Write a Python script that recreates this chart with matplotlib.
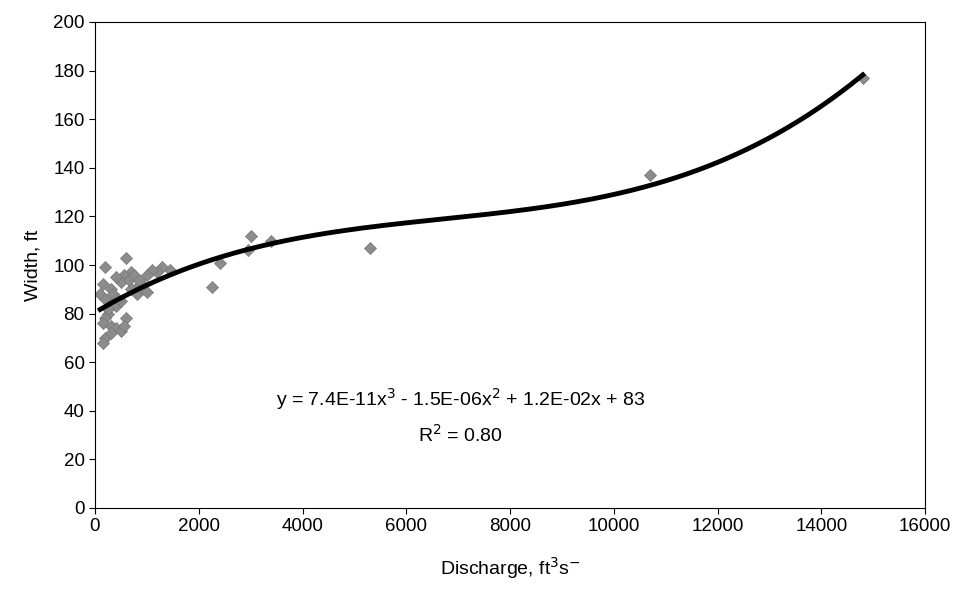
import numpy as np
import matplotlib
matplotlib.use("Agg")
import matplotlib.pyplot as plt

discharge = [14800,10700,5300,3400,3000,2950,2400,2250,1450,1300,1200,1100,1000,900,800,700,600,700,550,500,400,300,200,150,100,200,300,400,500,250,200,150,300,400,500,600,550,200,150,300,800,900,1000,350,450,250,650,750,850]
width = [177,137,107,110,112,106,101,91,98,99,97,98,96,92,91,90,103,97,96,93,95,90,99,92,88,86,84,83,85,80,78,76,75,74,73,78,75,70,68,72,88,90,89,88,86,82,94,96,94]
xticks = list(range(0,16001,2000))
yticks = list(range(0,201,20))

plt.rcParams['font.family'] = ['Liberation Sans', 'DejaVu Sans']
fig = plt.figure(figsize=(9.61,6.01), dpi=100)
ax = fig.add_axes([95/961, 1-508/601, 830/961, 486/601])
ax.scatter(discharge, width, marker='D', s=38, color='#8c8c8c', edgecolors='#777777', linewidths=0.5, zorder=2)
c = np.polyfit(discharge, width, 3)
xs = np.linspace(100, 14800, 300)
ax.plot(xs, np.polyval(c, xs), color='black', lw=3.5, zorder=3)
ax.set_xlim(0,16000); ax.set_ylim(0,200)
ax.set_xticks(xticks); ax.set_yticks(yticks)
ax.tick_params(labelsize=13.5, direction='out', length=4)
ax.set_xlabel('Discharge, ft$^3$s$^{-}$', fontsize=14, labelpad=14)
ax.set_ylabel('Width, ft', fontsize=14, labelpad=8)
ax.text(7050, 45, 'y = 7.4E-11x$^3$ - 1.5E-06x$^2$ + 1.2E-02x + 83', fontsize=14, ha='center', va='center')
ax.text(7050, 30, 'R$^2$ = 0.80', fontsize=14, ha='center', va='center')
fig.savefig('out.png', dpi=100)
